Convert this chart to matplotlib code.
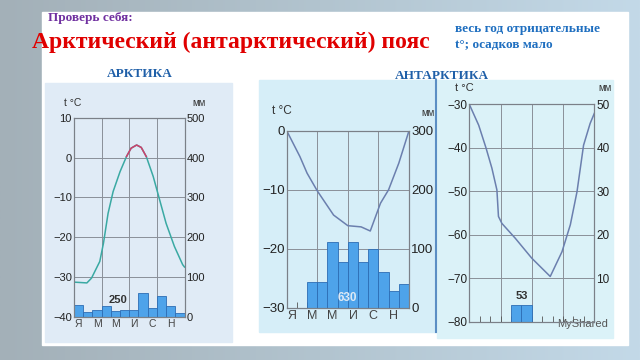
import numpy as np
import matplotlib.pyplot as plt
from matplotlib.patches import Rectangle
from matplotlib.colors import LinearSegmentedColormap

W, H = 640, 360

month_labels = ['Я', 'М', 'М', 'И', 'С', 'Н']

# Арктика
arc_tx = [0, 1.4, 1.9, 2.8, 3.2, 3.7, 4.25, 5.0, 5.7, 6.2, 6.8, 7.3, 7.85, 8.6, 9.3, 10.0, 10.9, 11.8, 12]
arc_t = [-31.3, -31.5, -30.3, -26.1, -21.5, -14, -8.5, -3.5, 0.3, 2.4, 3.2, 2.6, 0.3, -4.7, -10.6, -16.5, -22.3, -26.9, -27.5]
arc_prec = [29, 11, 16, 27, 15, 17, 18, 60, 22, 52, 27, 9]
arc_total = '250'

# Антарктика, побережье
cst_tx = [0, 1.3, 2.0, 3.0, 4.6, 6.0, 7.3, 8.2, 9.2, 10.0, 11.0, 12]
cst_t = [0, -4.4, -7.2, -10.2, -14.3, -16.1, -16.3, -17.0, -12.3, -10.0, -5.5, 0]
cst_prec = [0, 0, 44, 44, 112, 77, 112, 77, 99, 61, 28, 40]
cst_total = '630'

# Антарктида, внутренние районы
inl_tx = [0, 0.9, 1.6, 2.17, 2.65, 2.8, 3.13, 4.41, 6.0, 7.77, 8.9, 9.7, 10.34, 10.97, 11.6, 12]
inl_t = [-30, -34.8, -40, -44.7, -49.7, -55.8, -57.4, -60.8, -65.4, -69.6, -63.9, -57.7, -50.1, -39.4, -34.4, -32.1]
inl_prec = [0, 0, 0, 0, 3.8, 3.8, 0, 0, 0, 0, 0, 0]
inl_total = '53'


def box(l, t, r, b):
    return [l / W, 1 - b / H, (r - l) / W, (b - t) / H]


def panel(pos, tx, ty, prec, tticks, pticks, pshow, fs, months=True, minor=False, red=False):
    ax = fig.add_axes(box(*pos))
    ax.set_facecolor('none')
    ax.set_xlim(0, 12)
    ax.set_ylim(pticks[0], pticks[-1])
    ax.grid(axis='y', color='#8a9099', lw=0.7)
    for m in (3, 6, 9):
        ax.axvline(m, color='#8a9099', lw=0.7, zorder=0.5)
    ax.bar(np.arange(12) + 0.5, prec, width=1, color='#4ea3ea', edgecolor='#2d6db4', lw=0.6, zorder=2)
    if months:
        ax.set_xticks(np.arange(0.5, 12, 2))
        ax.set_xticklabels(month_labels)
    else:
        ax.set_xticks([])
    if minor:
        ax.set_xticks(np.arange(1, 12), minor=True)
        ax.tick_params(axis='x', which='minor', direction='in', length=4, color='#555')
    ax.tick_params(axis='x', which='major', length=0, pad=2, labelsize=fs - 0.5, labelcolor='#444')

    ax2 = ax.twinx()
    ax2.set_ylim(tticks[0], tticks[-1])
    ax2.set_yticks(tticks)
    ax2.yaxis.tick_left()
    ax2.tick_params(axis='y', length=0, pad=1.5, labelsize=fs, labelcolor='#222')

    # twinx moves the first axis' ticks to the left, put mm back on the right
    ax.yaxis.tick_right()
    ax.set_yticks(pticks)
    ax.set_yticklabels([str(p) if p in pshow else '' for p in pticks])
    ax.tick_params(axis='y', length=0, pad=1.5, labelsize=fs, labelcolor='#222')

    if red:
        ty_a = np.array(ty)
        ax2.plot(tx, ty, color='#3aa9a3', lw=1.1)
        idx = np.where(ty_a >= 0)[0]
        ax2.plot(np.array(tx)[idx], ty_a[idx], color='#cf3f6b', lw=1.1)
    else:
        ax2.plot(tx, ty, color='#6b7fae', lw=1.1)
    for a in (ax, ax2):
        for s in a.spines.values():
            s.set_color('#7b8088')
            s.set_linewidth(0.8)
    return ax, ax2


fig = plt.figure(figsize=(6.4, 3.6), dpi=100)

# фон слайда
bg = fig.add_axes([0, 0, 1, 1])
grad = np.linspace(0, 1, 256).reshape(1, -1)
cmap = LinearSegmentedColormap.from_list('bg', ['#a3b0b8', '#b2c4cf', '#c3d9e8'])
bg.imshow(grad, aspect='auto', cmap=cmap, extent=[0, W, H, 0])
bg.set_xlim(0, W); bg.set_ylim(H, 0)
bg.axis('off')
white = Rectangle((42, 12), 586, 333, color='white')
bg.add_patch(white)
bg.add_patch(Rectangle((45, 83), 187, 259, color='#e0ebf6'))
bg.add_patch(Rectangle((259, 80), 178, 252, color='#d6eef8'))
bg.add_patch(Rectangle((437, 80), 176, 258, color='#dbf2f8'))
bg.plot([436, 436], [80, 332], color='#5b8ec4', lw=1.5)

serif = 'Liberation Serif'
bg.text(48, 18, 'Проверь себя:', family=serif, weight='bold', fontsize=9.5, color='#7030a0', va='center')
ttl = bg.text(32, 42, 'Арктический (антарктический) пояс', family=serif, weight='bold',
              fontsize=17, color='#e00000', va='center')
ttl.set_clip_path(white)
bg.text(455, 29, 'весь год отрицательные', family=serif, weight='bold', fontsize=9.5, color='#1f6fc0', va='center')
bg.text(455, 45, 't°; осадков мало', family=serif, weight='bold', fontsize=9.5, color='#1f6fc0', va='center')
bg.text(140, 74, 'АРКТИКА', family=serif, weight='bold', fontsize=9.5, color='#1f5fa8', ha='center', va='center')
bg.text(442, 76, 'АНТАРКТИКА', family=serif, weight='bold', fontsize=9.5, color='#1f5fa8', ha='center', va='center')

plt.rcParams['font.family'] = ['Liberation Sans', 'DejaVu Sans']

# Арктика
a1, b1 = panel((74, 118, 184.5, 316.7), arc_tx, arc_t, arc_prec, [-40, -30, -20, -10, 0, 10],
               [0, 100, 200, 300, 400, 500], [0, 100, 200, 300, 400, 500], 8, red=True)
a1.text(4.75, 42, arc_total, ha='center', va='center', fontsize=8, weight='bold', color='#333')
bg.text(64, 103, 't °C', fontsize=7.5, color='#333', va='center')
bg.text(192, 103, 'мм', fontsize=7, color='#333', va='center')

# Антарктида, побережье
a2, b2 = panel((286.7, 130.7, 409, 307.7), cst_tx, cst_t, cst_prec, [-30, -20, -10, 0],
               [0, 100, 200, 300], [0, 100, 200, 300], 9.5, minor=True)
a2.text(6.0, 16, cst_total, ha='center', va='center', fontsize=8.5, weight='bold', color='#dde9f5')
bg.text(272, 111, 't °C', fontsize=8.5, color='#333', va='center')
bg.text(421, 113, 'мм', fontsize=7, color='#333', va='center')

# Антарктида, внутренние районы
a3, b3 = panel((469.3, 104.3, 594.3, 321.7), inl_tx, inl_t, inl_prec, [-80, -70, -60, -50, -40, -30],
               [0, 10, 20, 30, 40, 50], [10, 20, 30, 40, 50], 8.5, months=False, minor=True)
a3.text(5.0, 6.0, inl_total, ha='center', va='center', fontsize=8, weight='bold', color='#333')
bg.text(455, 88, 't °C', fontsize=8, color='#333', va='center')
bg.text(598, 88, 'мм', fontsize=7, color='#333', va='center')
bg.text(557, 324, 'MyShared', fontsize=8, color='#555', va='center')

fig.savefig('out.png', dpi=100)
